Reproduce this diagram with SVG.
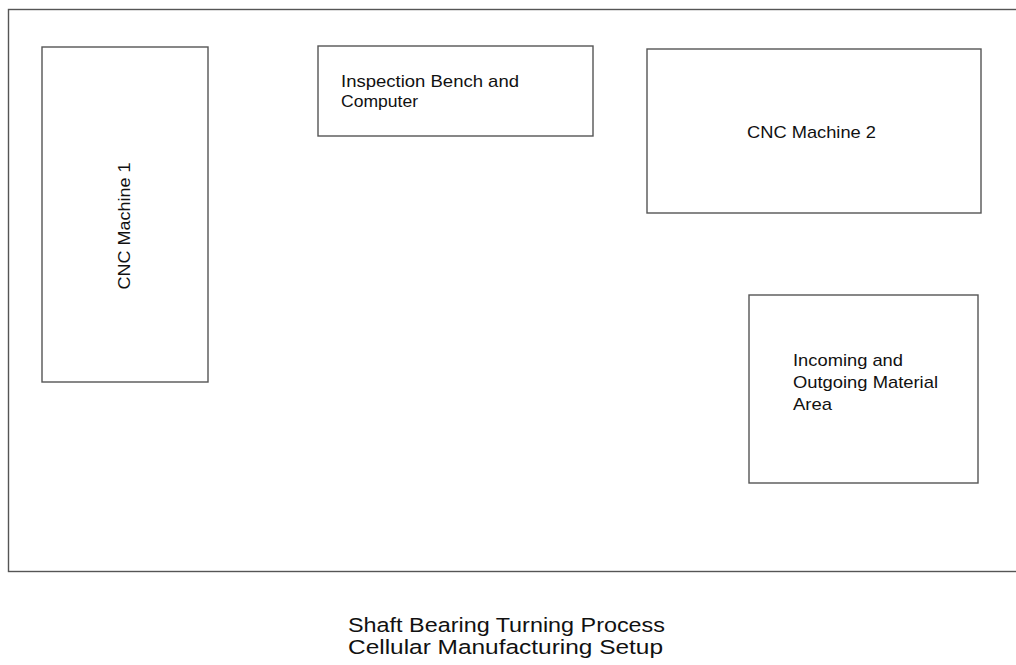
<svg xmlns="http://www.w3.org/2000/svg" width="1016" height="665" viewBox="0 0 1016 665">
<style>
.box{fill:none;stroke:#555;stroke-width:1.4}
.lbl{font-family:"Liberation Sans",Arial,sans-serif;font-size:17px;fill:#111}
.ttl{font-family:"Liberation Sans",Arial,sans-serif;font-size:20.5px;fill:#111}
</style>
<rect width="1016" height="665" fill="#fff"/>
<g id="frame"><rect class="box" x="8.5" y="9.5" width="1020" height="562"/></g>
<g id="cnc1">
<rect class="box" x="42" y="47" width="166" height="335"/>
<text class="lbl" text-anchor="middle" textLength="127" lengthAdjust="spacingAndGlyphs" transform="translate(130,226) rotate(-90)">CNC Machine 1</text>
</g>
<g id="inspection">
<rect class="box" x="318" y="46" width="275" height="90"/>
<text class="lbl" x="341" y="87" textLength="178" lengthAdjust="spacingAndGlyphs">Inspection Bench and</text>
<text class="lbl" x="341" y="107" textLength="77" lengthAdjust="spacingAndGlyphs">Computer</text>
</g>
<g id="cnc2">
<rect class="box" x="647" y="49" width="334" height="164"/>
<text class="lbl" x="747" y="138" textLength="129" lengthAdjust="spacingAndGlyphs">CNC Machine 2</text>
</g>
<g id="material">
<rect class="box" x="749" y="295" width="229" height="188"/>
<text class="lbl" x="793" y="366" textLength="110" lengthAdjust="spacingAndGlyphs">Incoming and</text>
<text class="lbl" x="793" y="388" textLength="145" lengthAdjust="spacingAndGlyphs">Outgoing Material</text>
<text class="lbl" x="793" y="410" textLength="39" lengthAdjust="spacingAndGlyphs">Area</text>
</g>
<g id="connectors"></g>
<g id="title">
<text class="ttl" x="348" y="632" textLength="317" lengthAdjust="spacingAndGlyphs">Shaft Bearing Turning Process</text>
<text class="ttl" x="348" y="654" textLength="315" lengthAdjust="spacingAndGlyphs">Cellular Manufacturing Setup</text>
</g>
</svg>
